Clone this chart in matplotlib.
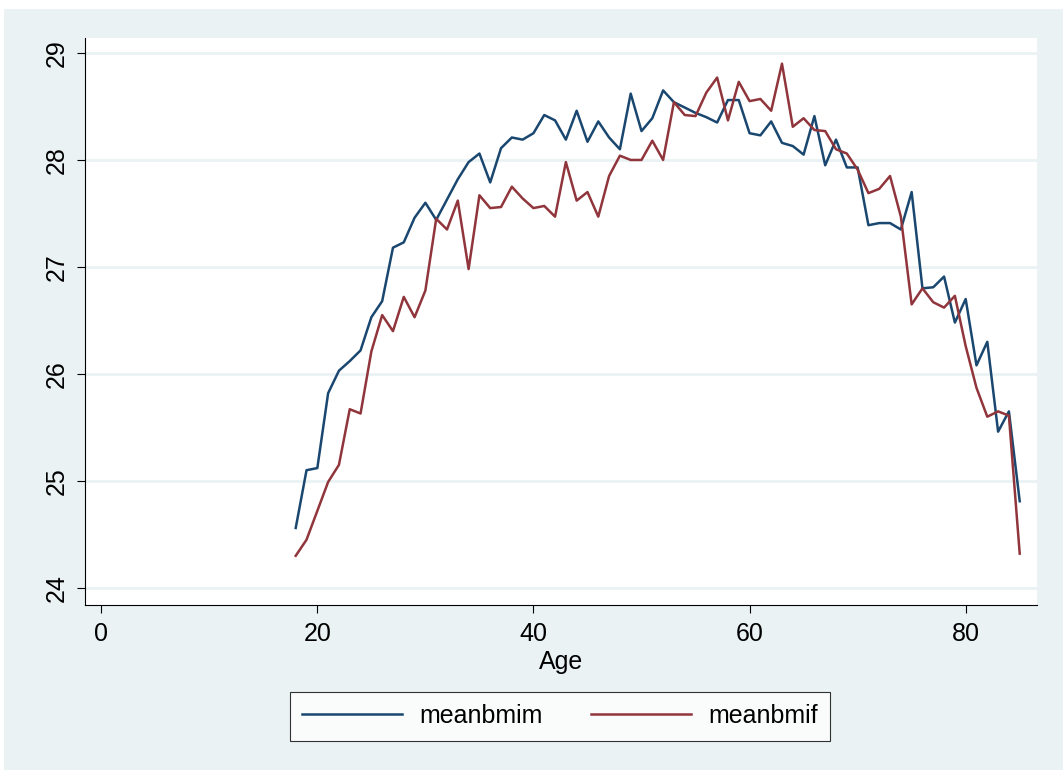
import numpy as np
import matplotlib
matplotlib.use("Agg")
import matplotlib.pyplot as plt
from matplotlib.patches import Rectangle

plt.rcParams['font.family'] = ['Liberation Sans', 'DejaVu Sans']

# ---------------------------------
# Data: mean BMI by age
# ---------------------------------
age = list(range(18, 86))

meanbmim = [24.56, 25.10, 25.12, 25.82, 26.03, 26.12, 26.22, 26.53, 26.68, 27.18,
            27.23, 27.46, 27.60, 27.44, 27.63, 27.82, 27.98, 28.06, 27.79, 28.11,
            28.21, 28.19, 28.25, 28.42, 28.37, 28.19, 28.46, 28.17, 28.36, 28.21,
            28.10, 28.62, 28.27, 28.39, 28.65, 28.54, 28.49, 28.44, 28.40, 28.35,
            28.56, 28.56, 28.25, 28.23, 28.36, 28.16, 28.13, 28.05, 28.41, 27.95,
            28.19, 27.93, 27.93, 27.39, 27.41, 27.41, 27.35, 27.70, 26.80, 26.81,
            26.91, 26.48, 26.70, 26.08, 26.30, 25.46, 25.65, 24.81]

meanbmif = [24.30, 24.45, 24.72, 24.99, 25.15, 25.67, 25.63, 26.21, 26.55, 26.40,
            26.72, 26.53, 26.78, 27.45, 27.35, 27.62, 26.98, 27.67, 27.55, 27.56,
            27.75, 27.64, 27.55, 27.57, 27.47, 27.98, 27.62, 27.70, 27.47, 27.85,
            28.04, 28.00, 28.00, 28.18, 28.00, 28.54, 28.42, 28.41, 28.63, 28.77,
            28.37, 28.73, 28.55, 28.57, 28.46, 28.90, 28.31, 28.39, 28.28, 28.27,
            28.10, 28.06, 27.91, 27.69, 27.73, 27.85, 27.47, 26.65, 26.80, 26.67,
            26.62, 26.73, 26.26, 25.87, 25.60, 25.65, 25.61, 24.32]

x_ticks = [0, 20, 40, 60, 80]
y_ticks = [24, 25, 26, 27, 28, 29]

bg = "#EAF2F3"

fig = plt.figure(figsize=(10.63, 7.70), dpi=100, facecolor="white")
fig.patches.append(Rectangle((4/1063, 0), 1, 1 - 9/770, transform=fig.transFigure,
                             facecolor=bg, edgecolor="none", zorder=-10))

ax = fig.add_axes([85/1063, 1 - 605/770, (1037-85)/1063, (605-38)/770])
ax.set_facecolor("white")

ax.plot(age, meanbmim, color="#1A476F", linewidth=1.8, label="meanbmim")
ax.plot(age, meanbmif, color="#90353B", linewidth=1.8, label="meanbmif")

ax.set_xlim(-1.5, 86.6)
ax.set_ylim(23.84, 29.14)
ax.set_xticks(x_ticks)
ax.set_yticks(y_ticks)
ax.set_yticklabels([str(v) for v in y_ticks], rotation=90, va="center")
ax.tick_params(labelsize=18, length=6, width=0.8, direction="out", pad=6)
ax.grid(True, axis="y", color=bg, linewidth=2)
ax.set_axisbelow(True)

for side in ["top", "right"]:
    ax.spines[side].set_visible(False)
for side in ["left", "bottom"]:
    ax.spines[side].set_linewidth(0.8)

ax.set_xlabel("Age", fontsize=18, labelpad=3)

leg = fig.legend(loc="center", bbox_to_anchor=(560/1063, 1 - 716/770), ncol=2,
                 fontsize=18, frameon=True, fancybox=False, handlelength=4.0,
                 handletextpad=0.7, columnspacing=1.9, borderpad=0.5)
leg.get_frame().set_edgecolor("black")
leg.get_frame().set_linewidth(0.8)

plt.savefig("out.png", dpi=100, facecolor=fig.get_facecolor())
